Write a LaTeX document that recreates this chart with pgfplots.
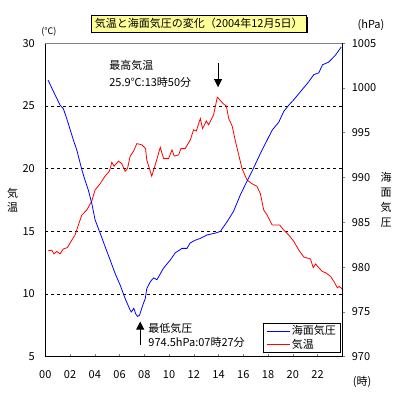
\documentclass[border=0pt]{standalone}
\usepackage{fontspec}
\setmainfont{Noto Sans CJK JP}
\usepackage{pgfplots}
\pgfplotsset{compat=1.18}
\usetikzlibrary{arrows.meta,shadows}
\definecolor{titlefill}{RGB}{255,255,153}

\pgfplotstableread{
h P
0.22 1000.9
0.7 999.5
1.19 998.1
1.46 997.7
1.73 996.6
2.0 995.4
2.27 994.2
2.54 993.1
2.95 990.9
3.21 989.7
3.48 988.6
3.76 987.1
4.02 985.3
4.43 983.8
4.83 982.3
5.24 980.8
5.64 979.3
6.05 978.0
6.45 976.5
6.86 975.2
6.95 975.0
7.15 975.4
7.3 974.8
7.45 974.5
7.6 974.6
7.94 976.0
8.08 976.5
8.2 977.6
8.5 978.4
8.75 978.8
9.02 978.6
9.56 979.9
10.1 980.8
10.5 981.6
11.05 982.1
11.45 982.1
11.7 982.7
12.1 983.0
12.5 983.2
13.07 983.6
13.74 983.8
14.15 984.0
14.7 985.1
15.2 986.2
15.77 988.1
16.3 989.6
16.84 991.1
17.38 992.7
17.93 994.2
18.33 995.3
18.87 996.2
19.27 997.4
19.68 998.1
20.08 998.7
20.62 999.6
21.17 1000.5
21.7 1001.5
22.1 1001.7
22.4 1002.6
22.9 1002.9
23.46 1003.7
23.92 1004.6
}\pressure

\pgfplotstableread{
h T
0.24 13.45
0.52 13.5
0.7 13.2
0.92 13.4
1.19 13.2
1.46 13.6
1.78 13.7
2.14 14.3
2.4 14.7
2.67 15.5
2.95 16.3
3.35 16.7
3.75 17.4
4.02 18.3
4.43 18.8
4.83 19.4
5.18 19.8
5.37 20.5
5.56 20.2
5.91 20.6
6.18 20.4
6.45 19.8
6.64 20.0
6.86 21.0
7.13 21.4
7.4 22.0
7.8 21.9
8.1 21.6
8.2 20.7
8.6 19.4
8.88 20.3
9.0 20.7
9.29 21.7
9.56 20.8
9.96 20.8
10.24 21.5
10.42 21.0
10.77 21.1
10.96 21.6
11.3 21.6
11.72 22.3
11.98 23.1
12.2 23.0
12.53 24.0
12.71 23.2
13.01 23.8
13.2 23.5
13.6 24.3
13.9 25.7
14.36 25.2
14.63 25.0
14.82 24.0
15.1 23.4
15.36 22.2
15.63 21.1
15.9 20.0
16.3 19.1
16.7 18.8
17.1 18.6
17.38 18.0
17.65 16.7
17.93 16.3
18.33 15.5
18.95 15.5
19.27 15.1
19.68 14.7
20.08 14.2
20.49 13.5
20.89 12.95
21.43 12.8
21.65 12.1
21.84 12.4
22.1 12.1
22.38 11.8
22.65 11.7
23.06 11.4
23.32 11.0
23.6 10.5
23.75 10.6
24.0 10.4
}\temperature

\begin{document}
\begin{tikzpicture}[font=\fontsize{11}{13}\selectfont]
\useasboundingbox (-45.3pt,-42.3pt) rectangle (353.7pt,356.7pt);
\begin{axis}[
  at={(0,0)}, anchor=south west,
  scale only axis, width=297pt, height=313.4pt,
  xmin=0, xmax=24, ymin=5, ymax=30,
  clip=false,
  axis line style={line width=0.8pt},
  xtick={0,2,...,24},
  xticklabels={00,02,04,06,08,10,12,14,16,18,20,22,},
  xtick pos=left, tick align=inside, major tick length=3pt,
  ytick={5,10,...,30}, ytick pos=left,
  ytick style={draw=none},
  ymajorgrids,
  major grid style={black, line width=0.7pt, dash pattern=on 3pt off 3pt},
  /pgf/number format/1000 sep={},
  tick label style={font=\fontsize{11}{13}\selectfont, /pgf/number format/assume math mode=true},
  yticklabel style={xshift=-7pt},
  xticklabel style={yshift=-10.5pt},
]
\addplot[red, line width=0.8pt] table[x=h, y=T] {\temperature};
\draw[gray, line width=0.8pt] (rel axis cs:0,1) -- (rel axis cs:1,1);
% annotations
\node[anchor=west, inner sep=0pt] at (axis cs:5.16,28.27) {最高気温};
\node[anchor=west, inner sep=0pt] at (axis cs:5.16,26.91) {25.9℃:13時50分};
\draw[line width=0.8pt, -{Triangle[width=8pt,length=8pt]}] (axis cs:13.96,28.4) -- (axis cs:13.96,26.5);
\node[anchor=west, inner sep=0pt] at (axis cs:8.32,7.24) {最低気圧};
\node[anchor=west, inner sep=0pt] at (axis cs:8.32,6.12) {974.5hPa:07時27分};
\draw[line width=0.8pt, -{Triangle[width=8pt,length=8pt]}] (axis cs:7.67,5.96) -- (axis cs:7.67,7.8);
\end{axis}
\begin{axis}[
  at={(0,0)}, anchor=south west,
  scale only axis, width=297pt, height=313.4pt,
  xmin=0, xmax=24, ymin=970, ymax=1005,
  axis x line=none, axis y line*=right,
  axis line style={line width=0.8pt, -},
  ytick={970,975,...,1005},
  tick align=outside, major tick length=3pt,
  ytick style={line width=0.8pt},
  /pgf/number format/1000 sep={},
  tick label style={font=\fontsize{11}{13}\selectfont, /pgf/number format/assume math mode=true},
  yticklabel style={xshift=3pt},
  legend style={at={(0.9946,0.0118)}, anchor=south east, draw=black, line width=0.8pt,
    fill=white, font=\fontsize{11}{13}\selectfont, inner xsep=3pt, inner ysep=1pt,
    nodes={inner sep=1.5pt}},
  legend cell align=left,
  legend image code/.code={\draw[#1] (0pt,0pt) -- (23pt,0pt);},
]
\addplot[blue, line width=0.8pt] table[x=h, y=P] {\pressure};
\addlegendentry{海面気圧}
\addlegendimage{red, line width=0.8pt}
\addlegendentry{気温}
\end{axis}
% title and labels
\node[draw=black, line width=0.8pt, fill=titlefill, inner xsep=3.5pt, inner ysep=3pt,
  drop shadow={shadow xshift=1.5pt, shadow yshift=-1.5pt, fill=black, opacity=1}]
  at (153.5pt,333pt) {気温と海面気圧の変化（2004年12月5日）};
\node at (3.7pt,324.7pt) {\fontsize{9}{11}\selectfont (℃)};
\node at (325.7pt,331.7pt) {(hPa)};
\node at (316.7pt,-25.3pt) {(時)};
\node[align=center, inner sep=0pt, font=\fontsize{11}{14}\selectfont] at (-32.8pt,156.7pt) {気\\温};
\node[align=center, inner sep=0pt, font=\fontsize{11}{15}\selectfont] at (340.7pt,156.7pt) {海\\面\\気\\圧};
\end{tikzpicture}
\end{document}
